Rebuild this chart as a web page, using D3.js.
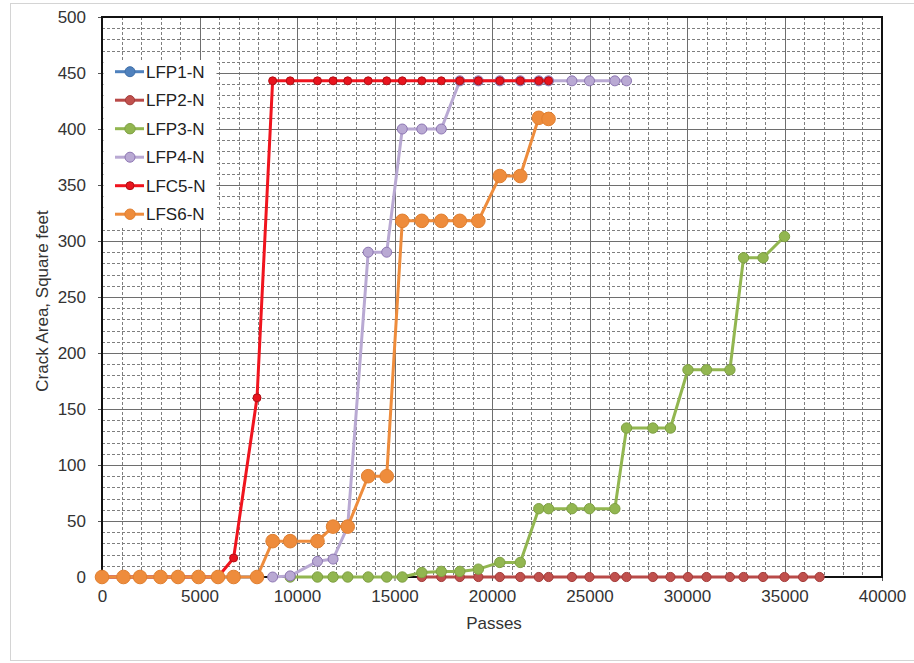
<!DOCTYPE html>
<html>
<head>
<meta charset="utf-8">
<script src="https://cdn.jsdelivr.net/npm/d3@7"></script>
<style>
  body { margin: 0; background: #fff; }
  text { font-family: "Liberation Sans", Arial, sans-serif; }
</style>
</head>
<body>
<div id="chart"></div>
<script>
// Passes (x) and crack area (y) for each test lane
const lfp1X = [0, 1100, 1950, 3000, 3900, 4950, 5950, 6750, 7950];
const lfp1Y = [0, 0, 0, 0, 0, 0, 0, 0, 0];

const lfp2X = [16400, 17400, 18350, 19300, 20400, 21450, 22400, 22900, 24100, 25000, 26300, 26900,
               28250, 29150, 30050, 31000, 32200, 32900, 33900, 35000, 35950, 36800];
const lfp2Y = [0, 0, 0, 0, 0, 0, 0, 0, 0, 0, 0, 0, 0, 0, 0, 0, 0, 0, 0, 0, 0, 0];

const lfp3X = [9650, 11050, 11850, 12600, 13650, 14600, 15400, 16400, 17400, 18350, 19300, 20400,
               21450, 22400, 22900, 24100, 25000, 26300, 26900, 28250, 29150, 30050, 31000, 32200,
               32900, 33900, 35000];
const lfp3Y = [0, 0, 0, 0, 0, 0, 0, 4, 5, 5, 7, 13, 13, 61, 61, 61, 61, 61, 133, 133, 133, 185, 185,
               185, 285, 285, 304];

const lfp4X = [8750, 9650, 11050, 11850, 12600, 13650, 14600, 15400, 16400, 17400, 18350, 19300,
               20400, 21450, 22400, 22900, 24100, 25000, 26300, 26900];
const lfp4Y = [0, 1, 14, 16, 45, 290, 290, 400, 400, 400, 443, 443, 443, 443, 443, 443, 443, 443,
               443, 443];

const lfc5X = [0, 1100, 1950, 3000, 3900, 4950, 5950, 6750, 7950, 8750, 9650, 11050, 11850, 12600,
               13650, 14600, 15400, 16400, 17400, 18350, 19300, 20400, 21450, 22400, 22900];
const lfc5Y = [0, 0, 0, 0, 0, 0, 0, 17, 160, 443, 443, 443, 443, 443, 443, 443, 443, 443, 443, 443,
               443, 443, 443, 443, 443];

const lfs6X = [0, 1100, 1950, 3000, 3900, 4950, 5950, 6750, 7950, 8750, 9650, 11050, 11850, 12600,
               13650, 14600, 15400, 16400, 17400, 18350, 19300, 20400, 21450, 22400, 22900];
const lfs6Y = [0, 0, 0, 0, 0, 0, 0, 0, 0, 32, 32, 32, 45, 45, 90, 90, 318, 318, 318, 318, 318, 358,
               358, 410, 409];

const seriesNames = ["LFP1-N", "LFP2-N", "LFP3-N", "LFP4-N", "LFC5-N", "LFS6-N"];
const xTicks = [0, 5000, 10000, 15000, 20000, 25000, 30000, 35000, 40000];
const yTicks = [0, 50, 100, 150, 200, 250, 300, 350, 400, 450, 500];

// look of each series
const styles = [
  { line: "#4F81BD", fill: "#4F81BD", stroke: "#3f6fa8", r: 5 },
  { line: "#B94A48", fill: "#C0504D", stroke: "#a43c3a", r: 4.6 },
  { line: "#92B650", fill: "#92B650", stroke: "#7fa143", r: 5.2 },
  { line: "#B9A9D3", fill: "#B9A9D3", stroke: "#8D76B3", r: 5 },
  { line: "#F0141E", fill: "#E8141E", stroke: "#B01015", r: 4 },
  { line: "#EE8C3C", fill: "#EE8C3C", stroke: "#E07F30", r: 6.8 }
];

const series = [
  { x: lfp1X, y: lfp1Y }, { x: lfp2X, y: lfp2Y }, { x: lfp3X, y: lfp3Y },
  { x: lfp4X, y: lfp4Y }, { x: lfc5X, y: lfc5Y }, { x: lfs6X, y: lfs6Y }
].map((s, i) => ({
  name: seriesNames[i],
  style: styles[i],
  points: s.x.map((x, j) => ({ x: x, y: s.y[j] }))
}));

const W = 914, H = 663;
const plot = { left: 102, top: 17, right: 882, bottom: 577 };

const svg = d3.select("#chart").append("svg")
  .attr("width", W)
  .attr("height", H);

// outer chart border
svg.append("rect")
  .attr("x", 10.5).attr("y", 3.5)
  .attr("width", 920).attr("height", 657)
  .attr("fill", "#fff")
  .attr("stroke", "#d4d4d4");

const x = d3.scaleLinear().domain([0, 40000]).range([plot.left, plot.right]);
const y = d3.scaleLinear().domain([0, 500]).range([plot.bottom, plot.top]);

// minor grid (dashed)
const minorX = d3.range(1000, 40000, 1000).filter(v => v % 5000 !== 0);
const minorY = d3.range(10, 500, 10).filter(v => v % 50 !== 0);
const grid = svg.append("g");
grid.selectAll(".mx").data(minorX).enter().append("line")
  .attr("x1", d => Math.round(x(d)) + 0.5).attr("x2", d => Math.round(x(d)) + 0.5)
  .attr("y1", plot.top).attr("y2", plot.bottom)
  .attr("stroke", "#7e7e7e").attr("stroke-width", 1).attr("stroke-dasharray", "3,2");
grid.selectAll(".my").data(minorY).enter().append("line")
  .attr("y1", d => Math.round(y(d)) + 0.5).attr("y2", d => Math.round(y(d)) + 0.5)
  .attr("x1", plot.left).attr("x2", plot.right)
  .attr("stroke", "#7e7e7e").attr("stroke-width", 1).attr("stroke-dasharray", "3,2");

// major grid (solid)
grid.selectAll(".Mx").data(xTicks).enter().append("line")
  .attr("x1", d => Math.round(x(d)) + 0.5).attr("x2", d => Math.round(x(d)) + 0.5)
  .attr("y1", plot.top).attr("y2", plot.bottom)
  .attr("stroke", "#6e6e6e").attr("stroke-width", 1);
grid.selectAll(".My").data(yTicks).enter().append("line")
  .attr("y1", d => Math.round(y(d)) + 0.5).attr("y2", d => Math.round(y(d)) + 0.5)
  .attr("x1", plot.left).attr("x2", plot.right)
  .attr("stroke", "#6e6e6e").attr("stroke-width", 1);

// axes
const xAxis = svg.append("g")
  .attr("transform", `translate(0,${plot.bottom})`)
  .call(d3.axisBottom(x).tickValues(xTicks).tickFormat(d3.format("d")).tickSize(4).tickPadding(9));
const yAxis = svg.append("g")
  .attr("transform", `translate(${plot.left},0)`)
  .call(d3.axisLeft(y).tickValues(yTicks).tickSize(4).tickPadding(12));
[xAxis, yAxis].forEach(a => {
  a.select(".domain").remove();
  a.selectAll("line").attr("stroke", "#555");
  a.selectAll("text").attr("font-size", 17).attr("fill", "#333")
    .style("font-family", "'Liberation Sans', Arial, sans-serif");
});

// plot frame
svg.append("rect")
  .attr("x", plot.left).attr("y", plot.top)
  .attr("width", plot.right - plot.left).attr("height", plot.bottom - plot.top)
  .attr("fill", "none").attr("stroke", "#111").attr("stroke-width", 2);

// series
const lineGen = d3.line().x(d => x(d.x)).y(d => y(d.y));
series.forEach(s => {
  const g = svg.append("g");
  g.append("path")
    .datum(s.points)
    .attr("d", lineGen)
    .attr("fill", "none")
    .attr("stroke", s.style.line)
    .attr("stroke-width", 3)
    .attr("stroke-linejoin", "round");
  g.selectAll("circle").data(s.points).enter().append("circle")
    .attr("cx", d => x(d.x))
    .attr("cy", d => y(d.y))
    .attr("r", s.style.r)
    .attr("fill", s.style.fill)
    .attr("stroke", s.style.stroke)
    .attr("stroke-width", 1);
});

// axis titles
svg.append("text")
  .attr("x", (plot.left + plot.right) / 2 + 2)
  .attr("y", 629)
  .attr("text-anchor", "middle")
  .attr("font-size", 17)
  .attr("fill", "#333")
  .text("Passes");

svg.append("text")
  .attr("transform", "rotate(-90)")
  .attr("x", -301)
  .attr("y", 48)
  .attr("text-anchor", "middle")
  .attr("font-size", 17)
  .attr("fill", "#333")
  .text("Crack Area, Square feet");

// legend
const legend = svg.append("g");
legend.append("rect")
  .attr("x", plot.left + 1.5).attr("y", 60)
  .attr("width", 113).attr("height", 168)
  .attr("fill", "#fff");
const items = legend.selectAll(".item").data(series).enter().append("g")
  .attr("transform", (d, i) => `translate(0,${71.7 + i * 28.5})`);
items.append("line")
  .attr("x1", 115).attr("x2", 144)
  .attr("stroke", d => d.style.line).attr("stroke-width", 3);
items.append("circle")
  .attr("cx", 130).attr("r", d => Math.min(d.style.r, 5.2))
  .attr("fill", d => d.style.fill)
  .attr("stroke", d => d.style.stroke);
items.append("text")
  .attr("x", 146).attr("dy", "0.35em")
  .attr("font-size", 17)
  .attr("fill", "#222")
  .text(d => d.name);
</script>
</body>
</html>
